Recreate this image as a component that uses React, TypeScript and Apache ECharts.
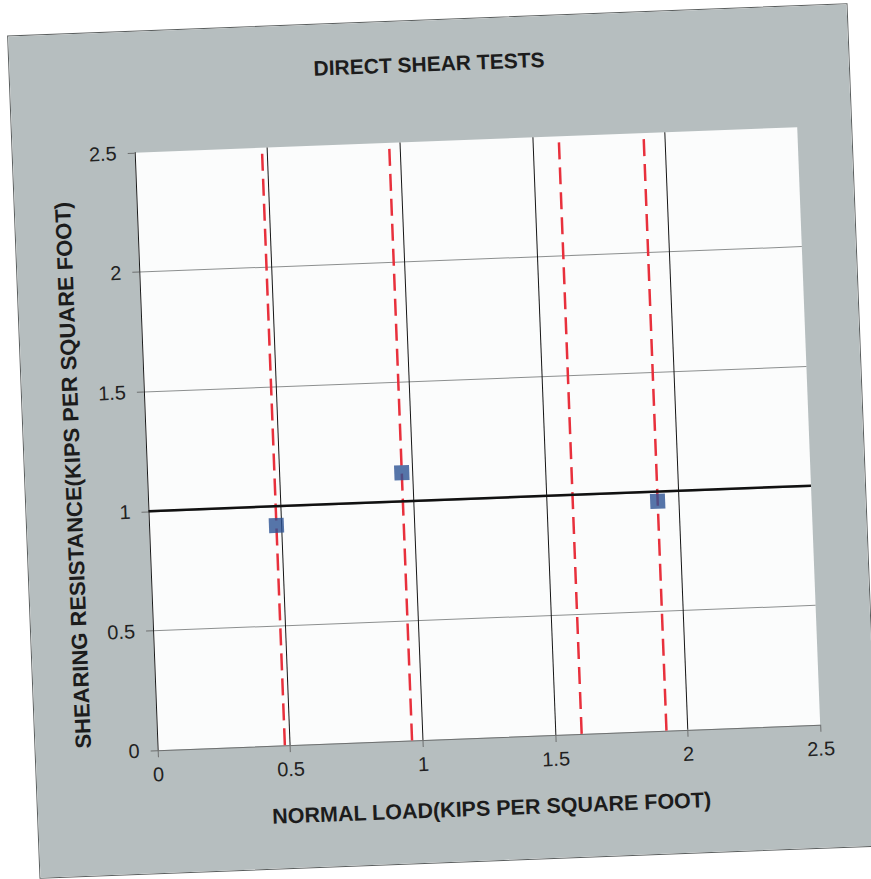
import React, { useEffect, useRef } from "react";
import * as echarts from "echarts";

// ---- data ----
const normalLoad = [0.48, 0.96, 1.92];
const shearResistance = [0.92, 1.12, 0.96];
const dashedLineX = [0.48, 0.96, 1.6, 1.92];
const refLineX = [0, 2.5];
const refLineY = [1.0, 1.0];
const axisMin = 0;
const axisMax = 2.5;
const axisStep = 0.5;

const titleText = "DIRECT SHEAR TESTS";
const xName = "NORMAL LOAD(KIPS PER SQUARE FOOT)";
const yName = "SHEARING RESISTANCE(KIPS PER SQUARE FOOT)";

const FONT = "'Liberation Sans', Arial, Helvetica, sans-serif";

export default function App() {
  const ref = useRef<HTMLDivElement>(null);

  useEffect(() => {
    if (!ref.current) return;
    const chart = echarts.init(ref.current, undefined, { renderer: "svg" });

    const dashedSeries = dashedLineX.map((x, i) => ({
      name: "limit" + i,
      type: "line",
      data: [
        [x, axisMin],
        [x, axisMax],
      ],
      symbol: "none",
      lineStyle: { color: "#e8303c", width: 2.5, type: [17, 8] },
      z: 3,
      silent: true,
    }));

    const option: any = {
      animation: false,
      backgroundColor: "#b6bebf",
      title: {
        text: titleText,
        left: "center",
        top: 33,
        padding: 0,
        textStyle: {
          fontFamily: FONT,
          fontSize: 21,
          fontWeight: "bold",
          color: "#1c1c1c",
        },
      },
      grid: {
        left: 122,
        right: 54,
        top: 121,
        bottom: 123,
        show: true,
        backgroundColor: "#fbfcfc",
        borderWidth: 0,
      },
      xAxis: {
        type: "value",
        min: axisMin,
        max: axisMax,
        interval: axisStep,
        name: xName,
        nameLocation: "middle",
        nameGap: 60,
        nameTextStyle: {
          fontFamily: FONT,
          fontSize: 21.5,
          fontWeight: "bold",
          color: "#1c1c1c",
        },
        axisLine: { show: true, lineStyle: { color: "#6e7070", width: 1 } },
        axisTick: { show: true, length: 7, lineStyle: { color: "#6e7070" } },
        axisLabel: {
          fontFamily: FONT,
          fontSize: 20,
          color: "#222",
          margin: 14,
        },
        splitLine: {
          show: true,
          showMinLine: false,
          showMaxLine: false,
          lineStyle: { color: "#151515", width: 1 },
        },
      },
      yAxis: {
        type: "value",
        min: axisMin,
        max: axisMax,
        interval: axisStep,
        name: yName,
        nameLocation: "middle",
        nameGap: 63,
        nameTextStyle: {
          fontFamily: FONT,
          fontSize: 22,
          fontWeight: "bold",
          color: "#1c1c1c",
          padding: [0, 42, 0, 0],
        },
        axisLine: { show: true, lineStyle: { color: "#1a1a1a", width: 1 } },
        axisTick: { show: true, length: 7, lineStyle: { color: "#6e7070" } },
        axisLabel: {
          fontFamily: FONT,
          fontSize: 20,
          color: "#222",
          margin: 18,
        },
        splitLine: {
          show: true,
          showMinLine: false,
          showMaxLine: false,
          lineStyle: { color: "#8c8f8f", width: 1 },
        },
      },
      series: [
        ...dashedSeries,
        {
          name: "reference",
          type: "line",
          data: refLineX.map((x, i) => [x, refLineY[i]]),
          symbol: "none",
          lineStyle: { color: "#111", width: 2.5 },
          z: 4,
          silent: true,
        },
        {
          name: "tests",
          type: "scatter",
          data: normalLoad.map((x, i) => [x, shearResistance[i]]),
          symbol: "rect",
          symbolSize: 15,
          itemStyle: { color: "#2d5394" },
          z: 5,
        },
      ],
    };

    chart.setOption(option);
    return () => chart.dispose();
  }, []);

  return (
    <div
      style={{
        position: "fixed",
        left: 0,
        top: 0,
        width: 871,
        height: 879,
        overflow: "hidden",
        background: "#ffffff",
      }}
    >
      <div
        ref={ref}
        style={{
          position: "absolute",
          left: 23.5,
          top: 20,
          width: 839,
          height: 842,
          transform: "rotate(-2.2deg)",
          transformOrigin: "50% 50%",
          outline: "1px solid #5a5e5e",
        }}
      />
    </div>
  );
}
